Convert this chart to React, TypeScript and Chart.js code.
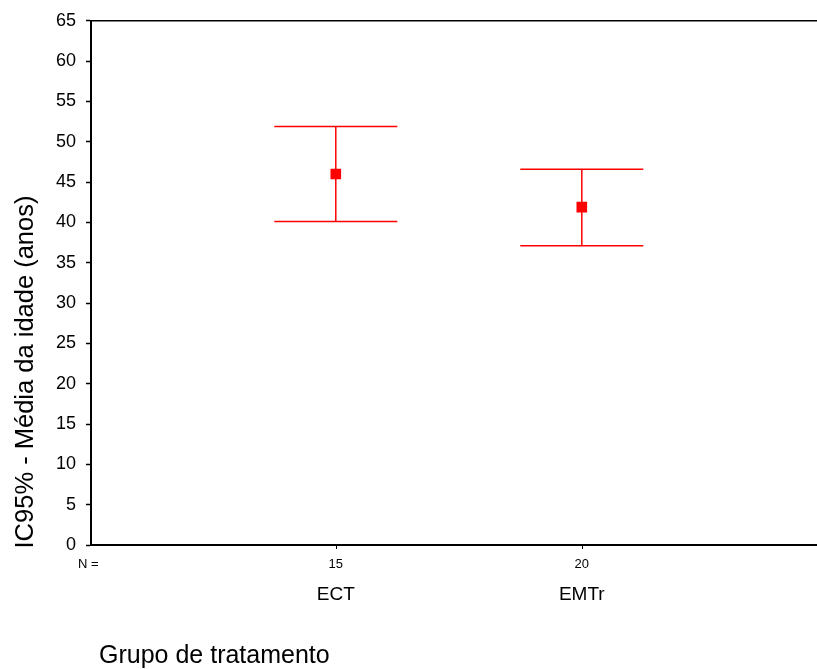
import React, { useEffect, useRef } from "react";
import { Chart, registerables } from "chart.js";

Chart.register(...registerables);

const categories = ["ECT", "EMTr"];
const nCounts = ["15", "20"];
const meanValues = [46.0, 41.9];
const lowerValues = [40.1, 37.1];
const upperValues = [51.9, 46.6];
const categoryPositions = [1, 2];

const yTitle = "IC95% - Média da idade (anos)";
const xTitle = "Grupo de tratamento";
const FONT = "'Liberation Sans', Arial, sans-serif";
const RED = "#ff0000";

export default function App() {
  const ref = useRef<HTMLCanvasElement | null>(null);

  useEffect(() => {
    if (!ref.current) return;
    const decor = {
      id: "decor",
      beforeDatasetsDraw(chart: any) {
        const ctx = chart.ctx;
        const xs = chart.scales.x;
        const ys = chart.scales.y;
        ctx.save();
        ctx.strokeStyle = RED;
        ctx.lineWidth = 1.5;
        categoryPositions.forEach((p, i) => {
          const x = xs.getPixelForValue(p);
          const half = xs.getPixelForValue(p + 0.25) - x;
          const yu = ys.getPixelForValue(upperValues[i]);
          const yl = ys.getPixelForValue(lowerValues[i]);
          ctx.beginPath();
          ctx.moveTo(x, yu);
          ctx.lineTo(x, yl);
          ctx.moveTo(x - half, yu);
          ctx.lineTo(x + half, yu);
          ctx.moveTo(x - half, yl);
          ctx.lineTo(x + half, yl);
          ctx.stroke();
        });
        ctx.restore();
      },
      afterDraw(chart: any) {
        const ctx = chart.ctx;
        const a = chart.chartArea;
        const xs = chart.scales.x;
        ctx.save();
        ctx.strokeStyle = "#000";
        // top frame line
        ctx.lineWidth = 1.5;
        ctx.beginPath();
        ctx.moveTo(a.left, a.top);
        ctx.lineTo(a.right, a.top);
        ctx.stroke();
        // bottom axis line
        ctx.lineWidth = 2;
        ctx.beginPath();
        ctx.moveTo(a.left - 1, a.bottom);
        ctx.lineTo(a.right, a.bottom);
        ctx.stroke();
        // small category ticks
        ctx.lineWidth = 1;
        categoryPositions.forEach((p) => {
          const x = Math.round(xs.getPixelForValue(p)) + 0.5;
          ctx.beginPath();
          ctx.moveTo(x, a.bottom + 1);
          ctx.lineTo(x, a.bottom + 4);
          ctx.stroke();
        });
        ctx.fillStyle = "#000";
        ctx.textBaseline = "alphabetic";
        // N row
        ctx.font = `13px ${FONT}`;
        ctx.textAlign = "left";
        ctx.fillText("N =", 78, a.bottom + 23);
        ctx.textAlign = "center";
        categoryPositions.forEach((p, i) => {
          ctx.fillText(nCounts[i], xs.getPixelForValue(p), a.bottom + 23);
        });
        // category labels
        ctx.font = `19px ${FONT}`;
        categoryPositions.forEach((p, i) => {
          ctx.fillText(categories[i], xs.getPixelForValue(p), a.bottom + 55);
        });
        // x title
        ctx.font = `25px ${FONT}`;
        ctx.textAlign = "left";
        ctx.fillText(xTitle, 99, 663);
        // y title
        ctx.font = `25.5px ${FONT}`;
        ctx.translate(33, 372);
        ctx.rotate(-Math.PI / 2);
        ctx.textAlign = "center";
        ctx.fillText(yTitle, 0, 0);
        ctx.restore();
      },
    };

    const chart = new Chart(ref.current, {
      type: "scatter",
      data: {
        datasets: [
          {
            data: categoryPositions.map((p, i) => ({ x: p, y: meanValues[i] })),
            pointStyle: "rect",
            pointRadius: 7.5,
            pointHoverRadius: 7.5,
            pointBorderWidth: 0,
            backgroundColor: RED,
            borderColor: RED,
          },
        ],
      },
      options: {
        animation: false,
        responsive: false,
        events: [],
        layout: { autoPadding: false, padding: { top: 18, right: 0, bottom: 124, left: 0 } },
        plugins: {
          legend: { display: false },
          tooltip: { enabled: false },
        },
        scales: {
          x: {
            type: "linear",
            display: false,
            min: 0.005,
            max: 2.956,
          },
          y: {
            type: "linear",
            min: 0,
            max: 65,
            afterFit(scale: any) {
              scale.width = 91;
            },
            ticks: {
              stepSize: 5,
              color: "#000",
              font: { family: FONT, size: 18 },
              padding: 10,
            },
            grid: {
              drawOnChartArea: false,
              drawTicks: true,
              tickLength: 5,
              tickColor: "#000",
              tickWidth: 1.5,
            },
            border: { color: "#000", width: 2 },
          },
        },
      },
      plugins: [decor],
    });
    return () => chart.destroy();
  }, []);

  return (
    <div style={{ position: "absolute", left: 0, top: 0, width: 817, height: 669, background: "#fff" }}>
      <canvas ref={ref} width={817} height={669} />
    </div>
  );
}
